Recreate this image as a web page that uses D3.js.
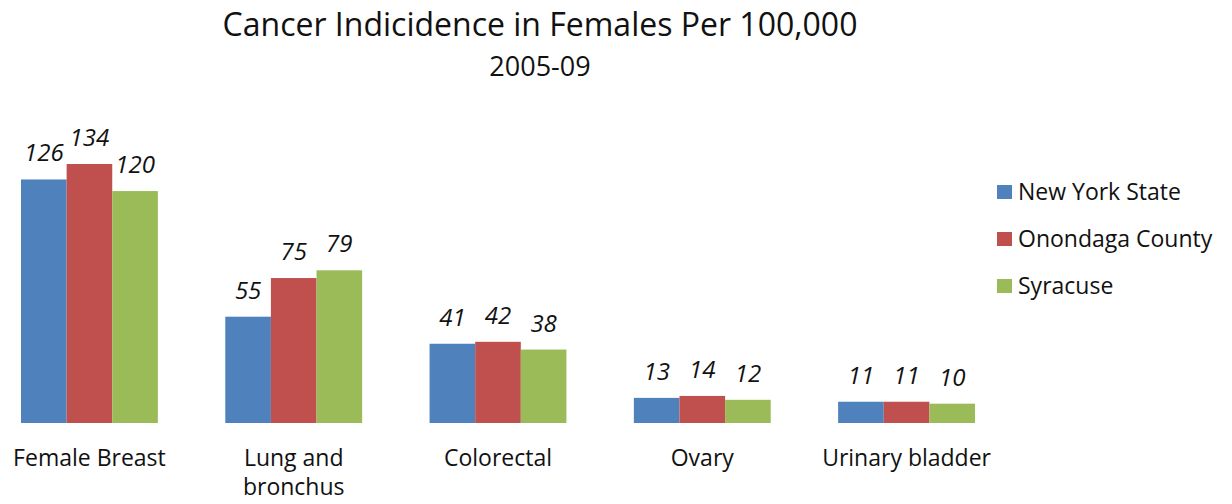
<!DOCTYPE html>
<html>
<head>
<meta charset="utf-8">
<script src="https://cdn.jsdelivr.net/npm/d3@7"></script>
<style>
  body { margin: 0; background: #fff; }
  svg { font-family: "Open Sans", sans-serif; }
</style>
</head>
<body>
<div id="chart"></div>
<script>
// Cancer incidence in females, per 100,000 (2005-09)
const categories = ["Female Breast", "Lung and bronchus", "Colorectal", "Ovary", "Urinary bladder"];
const seriesNames = ["New York State", "Onondaga County", "Syracuse"];
const newYorkState = [126, 55, 41, 13, 11];
const onondagaCounty = [134, 75, 42, 14, 11];
const syracuse = [120, 79, 38, 12, 10];
const colors = ["#4F81BD", "#C0504D", "#9BBB59"];

const series = [newYorkState, onondagaCounty, syracuse];

const width = 1232, height = 504;
const baseY = 423;

const svg = d3.select("#chart")
    .append("svg")
    .attr("width", width)
    .attr("height", height);

// title
svg.append("text")
    .attr("x", 540).attr("y", 36)
    .attr("text-anchor", "middle")
    .attr("font-size", 32)
    .attr("fill", "#111")
    .text("Cancer Indicidence  in Females Per 100,000");

svg.append("text")
    .attr("x", 540).attr("y", 76)
    .attr("text-anchor", "middle")
    .attr("font-size", 27)
    .attr("fill", "#111")
    .text("2005-09");

const x = d3.scaleBand()
    .domain(categories)
    .range([21, 975])
    .paddingInner(0.33)
    .paddingOuter(0);

const xSub = d3.scaleBand()
    .domain(seriesNames)
    .range([0, x.bandwidth()]);

const y = d3.scaleLinear()
    .domain([0, 134])
    .range([baseY, 164]);

// flatten to one row per bar
let rows = [];
categories.forEach((c, i) => {
    seriesNames.forEach((s, j) => {
        rows.push({cat: c, name: s, value: series[j][i], color: colors[j]});
    });
});

const bars = svg.append("g");

bars.selectAll("rect")
    .data(rows)
    .join("rect")
    .attr("x", d => x(d.cat) + xSub(d.name))
    .attr("y", d => y(d.value))
    .attr("width", xSub.bandwidth())
    .attr("height", d => baseY - y(d.value))
    .attr("fill", d => d.color);

bars.selectAll("text")
    .data(rows)
    .join("text")
    .attr("x", d => x(d.cat) + xSub(d.name) + xSub.bandwidth() / 2)
    .attr("y", d => y(d.value) - 18)
    .attr("text-anchor", "middle")
    .attr("font-size", 24)
    .attr("font-style", "italic")
    .attr("fill", "#111")
    .text(d => d.value);

// category labels, wrapped like the original
const catLabels = svg.append("g");
categories.forEach(c => {
    let lines = c === "Lung and bronchus" ? ["Lung and", "bronchus"] : [c];
    let t = catLabels.append("text")
        .attr("x", x(c) + x.bandwidth() / 2)
        .attr("y", 466)
        .attr("text-anchor", "middle")
        .attr("font-size", 23)
        .attr("fill", "#111");
    lines.forEach((l, k) => {
        t.append("tspan")
            .attr("x", x(c) + x.bandwidth() / 2)
            .attr("dy", k === 0 ? 0 : 29)
            .text(l);
    });
});

// legend
const legend = svg.append("g")
    .selectAll("g")
    .data(seriesNames)
    .join("g")
    .attr("transform", (d, i) => `translate(997, ${192 + i * 47})`);

legend.append("rect")
    .attr("x", 0).attr("y", -7)
    .attr("width", 15).attr("height", 14)
    .attr("fill", (d, i) => colors[i]);

legend.append("text")
    .attr("x", 21).attr("y", 8)
    .attr("font-size", 23)
    .attr("fill", "#111")
    .text(d => d);
</script>
</body>
</html>
